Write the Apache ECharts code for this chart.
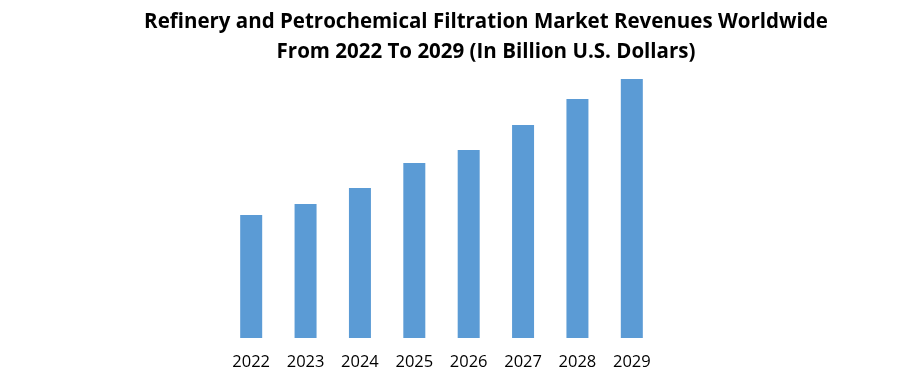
<!DOCTYPE html>
<html><head><meta charset="utf-8">
<script src="https://cdn.jsdelivr.net/npm/echarts@6/dist/echarts.min.js"></script>
<style>html,body{margin:0;padding:0;background:#fff}#c{width:902px;height:380px}</style>
</head><body><div id="c"></div>
<script>
const categories = ['2022','2023','2024','2025','2026','2027','2028','2029'];
const revenues = [1.23, 1.34, 1.50, 1.75, 1.88, 2.13, 2.39, 2.59];
const titleText = 'Refinery and Petrochemical Filtration Market Revenues Worldwide\nFrom 2022 To 2029 (In Billion U.S. Dollars)';

const chart = echarts.init(document.getElementById('c'));
chart.setOption({
  backgroundColor: '#ffffff',
  animation: false,
  title: {
    text: titleText,
    left: 481, top: 2, textAlign: 'center',
    textStyle: { fontFamily: 'Open Sans', fontWeight: 'bold', fontSize: 20.5, lineHeight: 30, color: '#000' }
  },
  grid: { left: 224, right: 902 - 659, top: 79, bottom: 380 - 338 },
  xAxis: {
    type: 'category', data: categories,
    axisLine: { show: false }, axisTick: { show: false },
    axisLabel: { color: '#000', fontFamily: 'Open Sans', fontSize: 16.5, margin: 16 }
  },
  yAxis: { type: 'value', min: 0, max: 2.59, show: false, splitLine: { show: false } },
  series: [{
    type: 'bar', data: revenues, barWidth: 22,
    itemStyle: { color: '#5b9bd5' }
  }]
});
</script></body></html>
